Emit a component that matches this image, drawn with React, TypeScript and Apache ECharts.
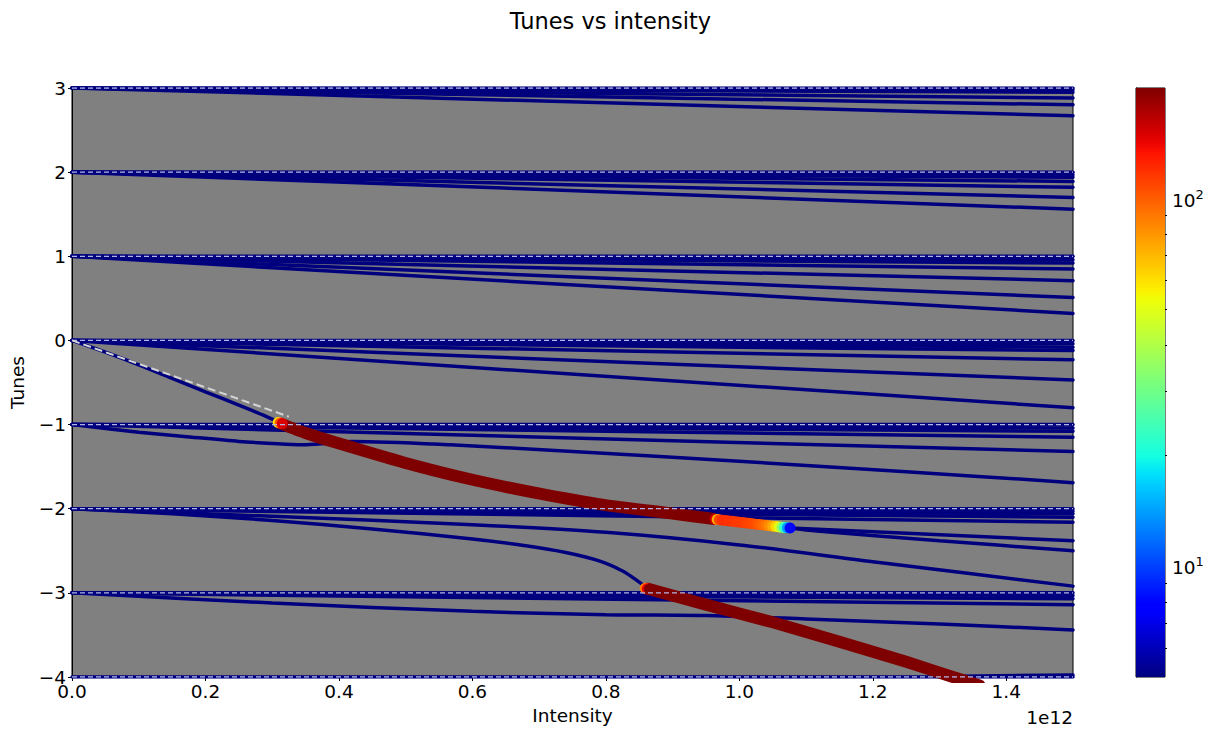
import React, { useEffect, useRef } from 'react';
import * as echarts from 'echarts';

// ---------- data (intensity in units of 1e12, tunes) ----------
const xTicks = [0, 0.2, 0.4, 0.6, 0.8, 1.0, 1.2, 1.4];
const integerTunes = [-4, -3, -2, -1, 0, 1, 2, 3];

// near-straight stable modes: start at their integer at 0, tune reached at 1.5e12
const family3Ends = [3.0, 2.98, 2.95, 2.88, 2.8, 2.67];
const family2Ends = [2.0, 1.97, 1.94, 1.89, 1.82, 1.7, 1.56];
const family1Ends = [1.0, 0.96, 0.92, 0.85, 0.71, 0.51, 0.32];
const family0Ends = [0.0, -0.04, -0.08, -0.12, -0.23, -0.47, -0.8];
const familyM1Ends = [-1.0, -1.04, -1.08, -1.15, -1.32];
const familyM2Ends = [-2.0, -2.03, -2.06, -2.1, -2.16];
const familyM3Ends = [-3.0, -3.03, -3.07, -3.14];
const familyM4Ends = [-4.0];

// curved stable modes
const mode0Steep = [[0, 0], [0.05, -0.14], [0.1, -0.29], [0.15, -0.45], [0.2, -0.61], [0.25, -0.77], [0.29, -0.9], [0.313, -0.985]];
const modeM1Dip = [[0, -1], [0.1, -1.09], [0.18, -1.15], [0.25, -1.2], [0.3, -1.225], [0.345, -1.24], [0.38, -1.225], [0.42, -1.2], [0.567, -1.24], [0.75, -1.32], [0.987, -1.43], [1.25, -1.56], [1.5, -1.69]];
const modeM2Bend = [[0, -2], [0.15, -2.06], [0.3, -2.14], [0.45, -2.24], [0.6, -2.36], [0.68, -2.44], [0.74, -2.52], [0.79, -2.62], [0.825, -2.74], [0.848, -2.86], [0.862, -2.945]];
const modeM2Lower = [[0, -2], [0.3, -2.09], [0.6, -2.19], [0.8, -2.28], [1.0, -2.43], [1.2, -2.63], [1.5, -2.92]];
const splitUpper = [[1.076, -2.23], [1.5, -2.38]];
const splitLower = [[1.076, -2.23], [1.116, -2.265], [1.3, -2.38], [1.5, -2.5]];
const modeM3Lower = [[0, -3], [0.3, -3.12], [0.6, -3.22], [0.8, -3.26], [0.95, -3.27], [1.1, -3.31], [1.3, -3.37], [1.5, -3.44]];
const modeM4Tail = [[1.33, -3.99], [1.5, -3.975]];

// unstable (coupled) modes
const unstable1 = [[0.313, -0.99], [0.35, -1.1], [0.398, -1.22], [0.497, -1.45], [0.597, -1.65], [0.697, -1.815], [0.797, -1.955], [0.897, -2.055], [0.96, -2.12]];
const unstable2 = [[0.862, -2.95], [0.95, -3.14], [1.05, -3.35], [1.15, -3.58], [1.25, -3.82], [1.32, -4.0], [1.36, -4.1]];

// points with visible growth-rate colour: [intensity, tune, growth rate]
const start1Points = [[0.309, -0.975, 60], [0.312, -0.982, 100], [0.315, -0.988, 150]];
const start2Points = [[0.859, -2.945, 90], [0.862, -2.95, 140], [0.865, -2.957, 200]];
const decouplePoints = [
  [0.96, -2.12, 200], [0.964, -2.124, 150], [0.967, -2.127, 70], [0.97, -2.131, 110],
  [0.975, -2.136, 120], [0.98, -2.141, 120], [0.985, -2.146, 118], [0.99, -2.15, 118],
  [0.995, -2.155, 116], [1.0, -2.16, 115], [1.005, -2.165, 114], [1.01, -2.17, 112],
  [1.015, -2.174, 110], [1.02, -2.179, 108], [1.025, -2.184, 105], [1.03, -2.188, 100],
  [1.035, -2.193, 96], [1.04, -2.197, 90], [1.045, -2.202, 82], [1.05, -2.207, 74],
  [1.055, -2.212, 62], [1.06, -2.216, 50], [1.064, -2.22, 35], [1.068, -2.223, 22],
  [1.072, -2.227, 14], [1.076, -2.23, 8],
];
const thresholdLine = [[0, 0], [0.325, -0.906]];

// colour bar
const cbMin = 5;
const cbMax = 200;
const cbMajor = [10, 100];
const cbMinor = [6, 7, 8, 9, 20, 30, 40, 50, 60, 70, 80, 90];
const cbExponents: Record<string, string> = { '1': '1', '2': '2' };

// ---------- jet colormap ----------
function interp(t: number, pts: number[][]) {
  for (let i = 1; i < pts.length; i++) {
    if (t <= pts[i][0]) {
      const [x0, y0] = pts[i - 1];
      const [x1, y1] = pts[i];
      return y0 + ((t - x0) / (x1 - x0)) * (y1 - y0);
    }
  }
  return pts[pts.length - 1][1];
}
function jet(t: number) {
  const r = interp(t, [[0, 0], [0.35, 0], [0.66, 1], [0.89, 1], [1, 0.5]]);
  const g = interp(t, [[0, 0], [0.125, 0], [0.375, 1], [0.64, 1], [0.91, 0], [1, 0]]);
  const b = interp(t, [[0, 0.5], [0.11, 1], [0.34, 1], [0.65, 0], [1, 0]]);
  const h = (v: number) => Math.round(Math.max(0, Math.min(1, v)) * 255).toString(16).padStart(2, '0');
  return '#' + h(r) + h(g) + h(b);
}
const jetSamples: string[] = [];
for (let i = 0; i <= 64; i++) jetSamples.push(jet(i / 64));

const NAVY = '#00007f';
const DARKRED = '#7f0000';
const FONT = 'DejaVu Sans';
const LABEL_SIZE = 18.5;
const lg = Math.log10;

function stable(data: number[][]) {
  return {
    type: 'line', xAxisIndex: 0, yAxisIndex: 0, data, symbol: 'none', showSymbol: false,
    lineStyle: { color: NAVY, width: 3.5, cap: 'round' }, z: 2, silent: true,
  };
}

export default function App() {
  const ref = useRef<HTMLDivElement>(null);
  useEffect(() => {
    const chart = echarts.init(ref.current!, undefined, { renderer: 'svg' });
    const families: [number, number[]][] = [
      [3, family3Ends], [2, family2Ends], [1, family1Ends], [0, family0Ends],
      [-1, familyM1Ends], [-2, familyM2Ends], [-3, familyM3Ends], [-4, familyM4Ends],
    ];
    const series: any[] = [];
    families.forEach(([k, ends]) => ends.forEach((e) => series.push(stable([[0, k], [1.5, e]]))));
    [mode0Steep, modeM1Dip, modeM2Bend, modeM2Lower, splitUpper, splitLower, modeM3Lower, modeM4Tail]
      .forEach((d) => series.push({ ...stable(d), smooth: 0.3 }));
    [unstable1, unstable2].forEach((d) =>
      series.push({
        type: 'line', xAxisIndex: 0, yAxisIndex: 0, data: d, symbol: 'none', showSymbol: false, smooth: 0.2,
        lineStyle: { color: DARKRED, width: 12, cap: 'round', join: 'round' }, z: 3, silent: true,
      })
    );
    const colourIdx = series.length;
    series.push({
      type: 'scatter', xAxisIndex: 0, yAxisIndex: 0,
      data: [...start1Points, ...start2Points, ...decouplePoints].map(([x, y, g]) => [x, y, lg(g)]),
      symbolSize: 11, z: 4, silent: true, itemStyle: { opacity: 1 },
    });
    integerTunes.forEach((k) =>
      series.push({
        type: 'line', xAxisIndex: 0, yAxisIndex: 0, data: [[0, k], [1.5, k]], symbol: 'none',
        lineStyle: { color: '#b2b5e2', width: 1.3, type: [5, 3] }, z: 6, silent: true,
      })
    );
    series.push({
      type: 'line', xAxisIndex: 0, yAxisIndex: 0, data: thresholdLine, symbol: 'none',
      lineStyle: { color: '#d4d4d4', width: 2, type: [8, 4] }, z: 6, silent: true,
    });
    // colour bar (top = max, bottom = min); stops in ascending offset order
    const stops = jetSamples.map((c, i) => ({ offset: i / 64, color: c }));
    series.push({
      type: 'custom', xAxisIndex: 1, yAxisIndex: 1, data: [[0, lg(cbMin)]], silent: true, clip: false,
      renderItem: (_p: any, api: any) => {
        const p1 = api.coord([0, lg(cbMax)]);
        const p2 = api.coord([1, lg(cbMin)]);
        return {
          type: 'rect',
          shape: { x: p1[0], y: p1[1], width: p2[0] - p1[0], height: p2[1] - p1[1] },
          style: { fill: new echarts.graphic.LinearGradient(0, 1, 0, 0, stops) },
        };
      },
    });

    const axisText = { color: '#000', fontFamily: FONT, fontSize: LABEL_SIZE };
    chart.setOption({
      animation: false,
      backgroundColor: '#fff',
      title: {
        text: 'Tunes vs intensity', left: 'center', top: 4,
        textStyle: { color: '#000', fontFamily: FONT, fontSize: 22.5, fontWeight: 'normal' },
      },
      grid: [
        { left: 71, top: 88, width: 1002, height: 589, show: true, backgroundColor: '#808080', borderColor: '#000', borderWidth: 1 },
        { left: 1136, top: 88, width: 29, height: 589, show: true, borderColor: '#000', borderWidth: 1 },
      ],
      xAxis: [
        {
          type: 'value', gridIndex: 0, min: 0, max: 1.5,
          name: 'Intensity', nameLocation: 'middle', nameGap: 29, nameTextStyle: axisText,
          axisLine: { show: true, onZero: false, lineStyle: { color: '#000', width: 1 } },
          axisTick: { show: true, length: 4, customValues: xTicks, lineStyle: { color: '#000' } },
          axisLabel: { ...axisText, margin: 5, customValues: xTicks, formatter: (v: number) => v.toFixed(1) },
          splitLine: { show: false },
        },
        { type: 'value', gridIndex: 1, min: 0, max: 1, show: false },
      ],
      yAxis: [
        {
          type: 'value', gridIndex: 0, min: -4, max: 3, interval: 1,
          name: 'Tunes', nameLocation: 'middle', nameGap: 45, nameRotate: 90, nameTextStyle: axisText,
          axisLine: { show: true, onZero: false, lineStyle: { color: '#000', width: 1 } },
          axisTick: { show: true, length: 4, lineStyle: { color: '#000' } },
          axisLabel: { ...axisText, margin: 6, formatter: (v: number) => (v < 0 ? '\u2212' + Math.abs(v) : String(v)) },
          splitLine: { show: false },
        },
        {
          type: 'value', gridIndex: 1, position: 'right', min: lg(cbMin), max: lg(cbMax),
          axisLine: { show: true, lineStyle: { color: '#000', width: 1 } },
          axisTick: { show: true, length: 4, customValues: cbMajor.map(lg), lineStyle: { color: '#000' } },
          axisLabel: {
            ...axisText, margin: 7, customValues: cbMajor.map(lg),
            formatter: (v: number) => {
              const e = cbExponents[String(Math.round(v))];
              return e ? `{b|10}{s|${e}}` : '';
            },
            rich: {
              b: { fontFamily: FONT, fontSize: LABEL_SIZE, color: '#000', verticalAlign: 'bottom' },
              s: { fontFamily: FONT, fontSize: 13, color: '#000', verticalAlign: 'bottom', padding: [0, 0, 9, 0] },
            },
          },
          splitLine: { show: false },
        },
        {
          type: 'value', gridIndex: 1, position: 'right', min: lg(cbMin), max: lg(cbMax),
          axisLine: { show: false },
          axisTick: { show: true, length: 2, customValues: cbMinor.map(lg), lineStyle: { color: '#000' } },
          axisLabel: { show: false },
          splitLine: { show: false },
        },
      ],
      visualMap: {
        type: 'continuous', show: false, seriesIndex: colourIdx, dimension: 2,
        min: lg(cbMin), max: lg(cbMax), inRange: { color: jetSamples },
      },
      graphic: [
        {
          type: 'text', x: 1073, y: 717,
          style: { text: '1e12', fill: '#000', font: `${LABEL_SIZE}px "${FONT}"`, textAlign: 'right', textVerticalAlign: 'middle' },
        },
      ],
      series,
    });
    return () => chart.dispose();
  }, []);
  return (
    <div
      ref={ref}
      style={{ position: 'absolute', left: 0, top: 0, width: 1221, height: 731, background: '#fff' }}
    />
  );
}
